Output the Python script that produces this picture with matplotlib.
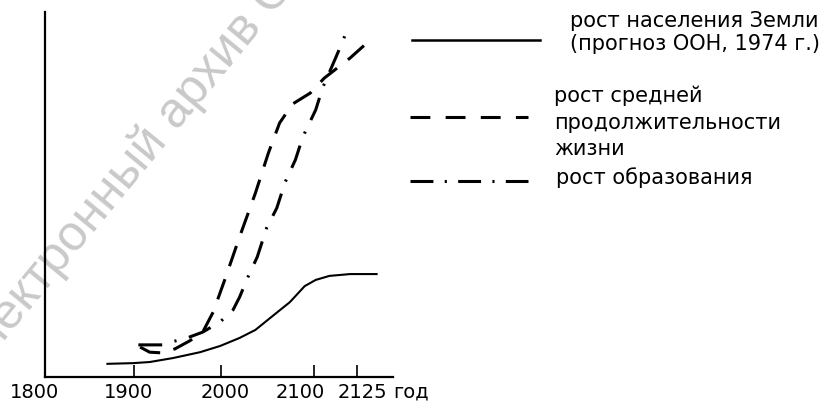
import numpy as np
import matplotlib
matplotlib.use("Agg")
import matplotlib.pyplot as plt
from matplotlib.lines import Line2D

# ---------------- data ----------------
tick_years = [1900, 2000, 2100, 2125]
tick_labels = ["1800", "1900", "2000", "2100", "2125"]
axis_unit = "год"

years_pop = [1869, 1899, 1918, 1945, 1976, 1999, 2020, 2037, 2053, 2074, 2090, 2101, 2109, 2121, 2137]
pop = [3.6, 3.8, 4.1, 5.2, 6.8, 8.5, 10.7, 12.9, 16.2, 20.5, 24.9, 26.6, 27.7, 28.2, 28.2]

years_life = [1907, 1918, 1933, 1947, 1964, 1979, 1991, 2004, 2020, 2037, 2051, 2063, 2077, 2096, 2106, 2121, 2130]
life = [8.2, 6.8, 6.6, 7.7, 9.9, 12.3, 17.8, 26.6, 38.4, 50.4, 61.4, 69.6, 74.8, 77.8, 81.9, 87.4, 91.2]

years_edu = [1905, 1933, 1943, 1961, 1979, 1999, 2013, 2020, 2029, 2039, 2049, 2060, 2069, 2080, 2088, 2101, 2105, 2112, 2117, 2120]
edu = [8.8, 8.8, 9.6, 10.7, 12.3, 15.1, 18.4, 21.9, 27.4, 32.9, 40.8, 46.3, 53.4, 59.5, 65.8, 73.2, 79.2, 86.8, 92.3, 96.2]

labels_pop = ["рост населения Земли", "(прогноз ООН, 1974 г.)"]
labels_life = ["рост средней", "продолжительности", "жизни"]
labels_edu = ["рост образования"]
watermark = "Электронный архив С"

# ---------------- figure ----------------
W, H = 822, 409
fig = plt.figure(figsize=(W / 100, H / 100), dpi=100)
fig.patch.set_facecolor("white")


def fx(x):
    return x / W


def fy(y):
    return 1 - y / H


FONT = "DejaVu Sans"
FS = 14
FS_LEG = 15

# watermark (behind everything)
fig.text(fx(-30), fy(383), watermark, rotation=50.5, rotation_mode="anchor",
         ha="left", va="baseline", fontsize=36, family="Liberation Sans",
         color="#c9c9c9", zorder=-5)

ax = fig.add_axes([fx(45), fy(377), (393 - 45) / W, (377 - 12) / H])
ax.set_facecolor("none")

# non-uniform (schematic) time axis
k_year = [1700, 1800, 1900, 2000, 2100, 2125, 2225]
k_pos = [-44, 45, 134, 221, 314, 357, 529]


def fwd(x):
    return np.interp(x, k_year, k_pos)


def inv(p):
    return np.interp(p, k_pos, k_year)


ax.set_xscale("function", functions=(fwd, inv))
ax.set_xlim(1800, inv(393))
ax.set_ylim(0, 100)

ax.plot(years_pop, pop, color="black", lw=1.5, solid_capstyle="butt")
ax.plot(years_life, life, color="black", lw=2.2, dashes=(7, 4.5), dash_capstyle="butt")
ax.plot(years_edu, edu, color="black", lw=2.2, dashes=(7.8, 4.2, 0.7, 4.2), dash_capstyle="butt")

for s in ["top", "right"]:
    ax.spines[s].set_visible(False)
for s in ["left", "bottom"]:
    ax.spines[s].set_linewidth(1.6)
ax.set_yticks([])
ax.set_xticks(tick_years)
ax.xaxis.set_minor_locator(matplotlib.ticker.NullLocator())
ax.tick_params(axis="x", direction="in", length=9, width=1.2, labelbottom=False)

# tick labels (placed as in the reference)
label_px = [35, 128, 225, 300, 362]
for lab, px in zip(tick_labels, label_px):
    fig.text(fx(px), fy(398), lab, ha="center", va="baseline", fontsize=FS, family=FONT)
fig.text(fx(393), fy(398), axis_unit, ha="left", va="baseline", fontsize=FS, family=FONT)

# legend keys
fig.add_artist(Line2D([fx(412), fx(540)], [fy(40), fy(40)], color="black", lw=1.8))
fig.add_artist(Line2D([fx(410), fx(528)], [fy(117), fy(117)], color="black", lw=2.2,
                      dashes=(6.5, 5), dash_capstyle="butt"))
fig.add_artist(Line2D([fx(410), fx(528)], [fy(181), fy(181)], color="black", lw=2.2,
                      dashes=(7.5, 3.7, 0.7, 3.7), dash_capstyle="butt"))

# legend texts
for txt, yb in zip(labels_pop, [27, 50]):
    fig.text(fx(570), fy(yb), txt, ha="left", va="baseline", fontsize=FS_LEG, family=FONT)
for txt, yb in zip(labels_life, [102, 129, 155]):
    fig.text(fx(554), fy(yb), txt, ha="left", va="baseline", fontsize=FS_LEG, family=FONT)
for txt, yb in zip(labels_edu, [184]):
    fig.text(fx(556), fy(yb), txt, ha="left", va="baseline", fontsize=FS_LEG, family=FONT)

fig.savefig("out.png", dpi=100, facecolor="white")
